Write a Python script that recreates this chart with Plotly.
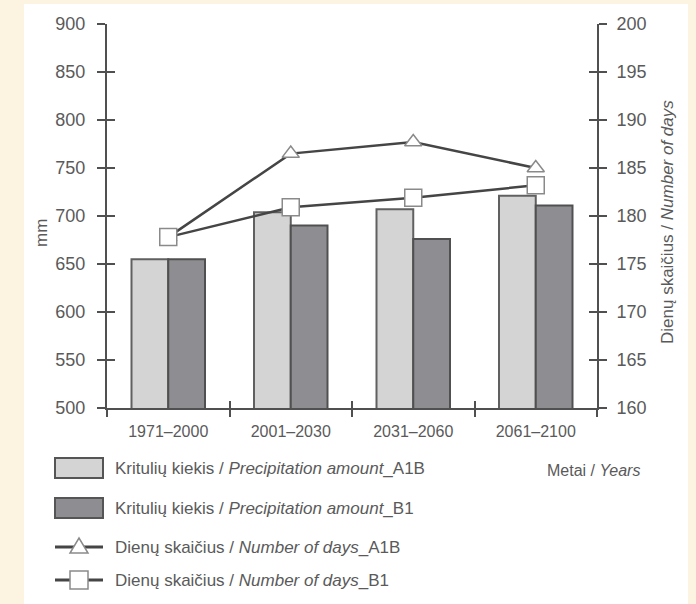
import plotly.graph_objects as go

categories = ["1971–2000", "2001–2030", "2031–2060", "2061–2100"]
precip_a1b = [655, 704, 707, 721]
precip_b1 = [655, 690, 676, 711]
days_a1b = [177.8, 186.5, 187.7, 185.0]
days_b1 = [177.8, 180.9, 181.9, 183.2]

legend_labels = [
    "Kritulių kiekis / <i>Precipitation amount</i>_A1B",
    "Kritulių kiekis / <i>Precipitation amount</i>_B1",
    "Dienų skaičius / <i>Number of days</i>_A1B",
    "Dienų skaičius / <i>Number of days</i>_B1",
]
left_title = "mm"
right_title = "Dienų skaičius / <i>Number of days</i>"
x_title = "Metai / <i>Years</i>"

W, H = 696, 604
L, R, T, B = 107, 597, 24, 408
FONT = "Liberation Sans Narrow, Liberation Sans, Arial, sans-serif"
TXT = "#5a5a5a"
AX = "#505050"
LIGHT = "#d4d4d4"
DARK = "#8e8e92"
CREAM = "#fdf3e1"


def px(x):
    return (x - L) / (R - L)


def py(y):
    return (B - y) / (B - T)


fig = go.Figure()
fig.add_trace(go.Bar(x=categories, y=precip_a1b, marker=dict(color=LIGHT, line=dict(color="#606060", width=2)),
                     showlegend=False, xaxis="x", yaxis="y"))
fig.add_trace(go.Bar(x=categories, y=precip_b1, marker=dict(color=DARK, line=dict(color="#505050", width=2)),
                     showlegend=False, xaxis="x", yaxis="y"))
fig.add_trace(go.Scatter(x=categories, y=days_a1b, mode="lines+markers", xaxis="x", yaxis="y2",
                         line=dict(color="#454545", width=2.5),
                         marker=dict(symbol="triangle-up", size=15, color="white", line=dict(color="#8a8a8a", width=1.5)),
                         showlegend=False))
fig.add_trace(go.Scatter(x=categories, y=days_b1, mode="lines+markers", xaxis="x", yaxis="y2",
                         line=dict(color="#454545", width=2.5),
                         marker=dict(symbol="square", size=17, color="white", line=dict(color="#8a8a8a", width=1.5)),
                         showlegend=False))
# dummy traces for overlay tick axes
fig.add_trace(go.Scatter(x=[], y=[], xaxis="x2", yaxis="y3", showlegend=False, hoverinfo="skip"))
fig.add_trace(go.Scatter(x=[], y=[], xaxis="x2", yaxis="y4", showlegend=False, hoverinfo="skip"))

ytickfont = dict(family=FONT, size=18, color=TXT)
xtickfont = dict(family=FONT, size=16, color=TXT)

fig.update_layout(
    width=W, height=H,
    margin=dict(l=L, r=W - R, t=T, b=H - B, pad=0),
    paper_bgcolor=CREAM,
    plot_bgcolor="rgba(0,0,0,0)",
    barmode="group", bargap=0.4, bargroupgap=0,
    showlegend=False,
    xaxis=dict(type="category", showline=True, linecolor=AX, linewidth=2, ticks="outside", ticklen=7,
               tickwidth=2, tickcolor=AX, tickson="boundaries", tickfont=xtickfont, showgrid=False,
               zeroline=False, range=[-0.5, 3.5], fixedrange=True, ticklabelstandoff=8),
    xaxis2=dict(overlaying="x", range=[-0.5, 3.5], tickvals=[0.5, 1.5, 2.5], ticks="inside", ticklen=7,
                tickwidth=2, tickcolor=AX, showticklabels=False, showgrid=False, zeroline=False,
                showline=False, side="bottom"),
    yaxis=dict(range=[500, 900], dtick=50, showline=True, linecolor=AX, linewidth=2, ticks="outside",
               ticklen=8, tickwidth=2, tickcolor=AX, tickfont=ytickfont, showgrid=False, zeroline=False,
               ticklabelstandoff=8),
    yaxis2=dict(range=[160, 200], dtick=5, overlaying="y", side="right", showline=True, linecolor=AX,
                linewidth=2, ticks="outside", ticklen=8, tickwidth=2, tickcolor=AX, tickfont=ytickfont,
                showgrid=False, zeroline=False, ticklabelstandoff=6),
    yaxis3=dict(range=[500, 900], dtick=50, overlaying="y", side="left", ticks="inside", ticklen=8,
                tickwidth=2, tickcolor=AX, showticklabels=False, showgrid=False, zeroline=False, showline=False),
    yaxis4=dict(range=[160, 200], dtick=5, overlaying="y", side="right", ticks="inside", ticklen=8,
                tickwidth=2, tickcolor=AX, showticklabels=False, showgrid=False, zeroline=False, showline=False),
)

shapes = [
    dict(type="rect", xref="paper", yref="paper", x0=px(24), x1=px(688), y0=py(608), y1=py(4),
         fillcolor="white", line=dict(width=0), layer="below"),
]
annotations = [
    dict(text=left_title, x=px(42), y=py(233), xref="paper", yref="paper", showarrow=False,
         textangle=-90, font=dict(family=FONT, size=17, color=TXT), xanchor="center", yanchor="middle"),
    dict(text=right_title, x=px(667), y=py(222), xref="paper", yref="paper", showarrow=False,
         textangle=-90, font=dict(family=FONT, size=17, color=TXT), xanchor="center", yanchor="middle"),
    dict(text=x_title, x=px(545), y=py(470), xref="paper", yref="paper", showarrow=False,
         font=dict(family=FONT, size=16, color=TXT), xanchor="left", yanchor="middle"),
]

rows = [468, 508, 547, 580]
sx0, sx1 = 55, 103
fills = [LIGHT, DARK]
for i, (lab, ry) in enumerate(zip(legend_labels, rows)):
    if i < 2:
        shapes.append(dict(type="rect", xref="paper", yref="paper", x0=px(sx0), x1=px(sx1),
                           y0=py(ry + 10), y1=py(ry - 10), fillcolor=fills[i],
                           line=dict(color="#555555", width=2)))
    else:
        cx = (sx0 + sx1) / 2
        shapes.append(dict(type="line", xref="paper", yref="paper", x0=px(sx0), x1=px(sx1),
                           y0=py(ry), y1=py(ry), line=dict(color="#454545", width=3)))
        if i == 2:
            path = "M {} {} L {} {} L {} {} Z".format(px(cx - 9), py(ry + 6), px(cx + 9), py(ry + 6),
                                                       px(cx), py(ry - 9))
            shapes.append(dict(type="path", xref="paper", yref="paper", path=path, fillcolor="white",
                               line=dict(color="#8a8a8a", width=1.5)))
        else:
            shapes.append(dict(type="rect", xref="paper", yref="paper", x0=px(cx - 9), x1=px(cx + 9),
                               y0=py(ry + 9), y1=py(ry - 9), fillcolor="white",
                               line=dict(color="#8a8a8a", width=1.5)))
    annotations.append(dict(text=lab, x=px(113), y=py(ry), xref="paper", yref="paper", showarrow=False,
                            font=dict(family=FONT, size=17, color=TXT), xanchor="left", yanchor="middle"))

fig.update_layout(shapes=shapes, annotations=annotations)
fig.write_html("out.html", config={"displayModeBar": False},
               post_script="document.body.style.margin='0';document.body.style.background='" + CREAM + "';")
